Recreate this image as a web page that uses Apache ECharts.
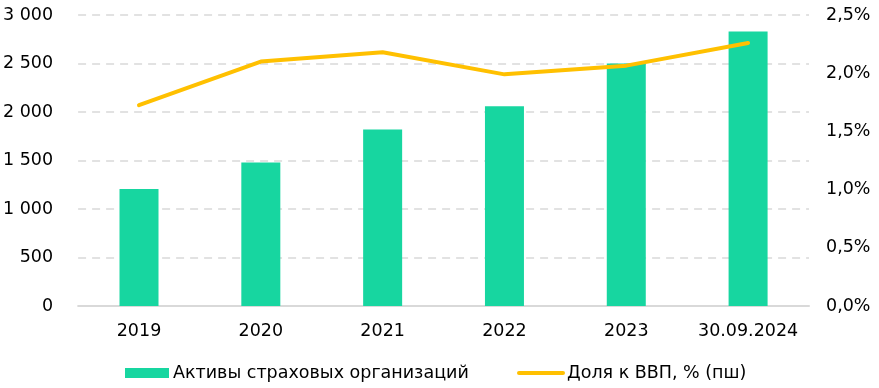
<!DOCTYPE html>
<html><head><meta charset="utf-8">
<script src="https://cdn.jsdelivr.net/npm/echarts@6/dist/echarts.min.js"></script>
<style>html,body{margin:0;padding:0;background:#fff}#c{width:879px;height:388px}</style>
</head><body><div id="c"></div>
<script>
const categories = ['2019','2020','2021','2022','2023','30.09.2024'];
const assets = [1205, 1480, 1820, 2060, 2500, 2830];
const gdpShare = [1.725, 2.10, 2.18, 1.99, 2.065, 2.26];
const leftTicks = [0, 500, 1000, 1500, 2000, 2500, 3000];
const seriesNames = ['Активы страховых организаций', 'Доля к ВВП, % (пш)'];

const font = 'DejaVu Sans, Verdana, sans-serif';
const fs = 17.5;
const chart = echarts.init(document.getElementById('c'));
chart.setOption({
  animation: false,
  textStyle: {fontFamily: font},
  grid: {left: 77, right: 70, top: 15, bottom: 82},
  legend: [{
    left: 125, top: 364, padding: 0, itemGap: 0, itemWidth: 44, itemHeight: 10,
    textStyle: {fontFamily: font, fontSize: fs, color: '#000', padding: [0,0,0,-1]},
    data: [{name: seriesNames[0], icon: 'rect'}]
  }, {
    left: 517, top: 364, padding: 0, itemGap: 0, itemWidth: 48, itemHeight: 10,
    textStyle: {fontFamily: font, fontSize: fs, color: '#000', padding: [0,0,0,-3]},
    data: [{name: seriesNames[1], icon: 'path://M2,0 L46,0 A2,2 0 0 1 46,4 L2,4 A2,2 0 0 1 2,0 Z'}]
  }],
  xAxis: {
    type: 'category', data: categories,
    axisLine: {lineStyle: {color: '#d9d9d9', width: 2}},
    axisTick: {show: false},
    axisLabel: {color: '#000', fontSize: fs, fontFamily: font, margin: 16, interval: 0}
  },
  yAxis: [{
    type: 'value', min: 0, max: 3000, interval: 500,
    axisLabel: {color: '#000', fontSize: fs, fontFamily: font, margin: 25,
      formatter: v => String(v).replace(/\B(?=(\d{3})+(?!\d))/g, ' ')},
    splitLine: {lineStyle: {color: '#d9d9d9', type: [8, 6], width: 1.5}},
    axisLine: {show: false}, axisTick: {show: false}
  }, {
    type: 'value', min: 0, max: 2.5, interval: 0.5, position: 'right',
    axisLabel: {color: '#000', fontSize: fs, fontFamily: font, margin: 17,
      formatter: v => v.toFixed(1).replace('.', ',') + '%'},
    splitLine: {show: false}, axisLine: {show: false}, axisTick: {show: false}
  }],
  series: [{
    name: seriesNames[0], type: 'bar', data: assets, barWidth: 39,
    itemStyle: {color: '#17D6A0'}
  }, {
    name: seriesNames[1], type: 'line', yAxisIndex: 1, data: gdpShare,
    showSymbol: false, symbol: 'none',
    lineStyle: {color: '#FFC000', width: 4, cap: 'round'},
    itemStyle: {color: '#FFC000'}
  }]
});
</script></body></html>
